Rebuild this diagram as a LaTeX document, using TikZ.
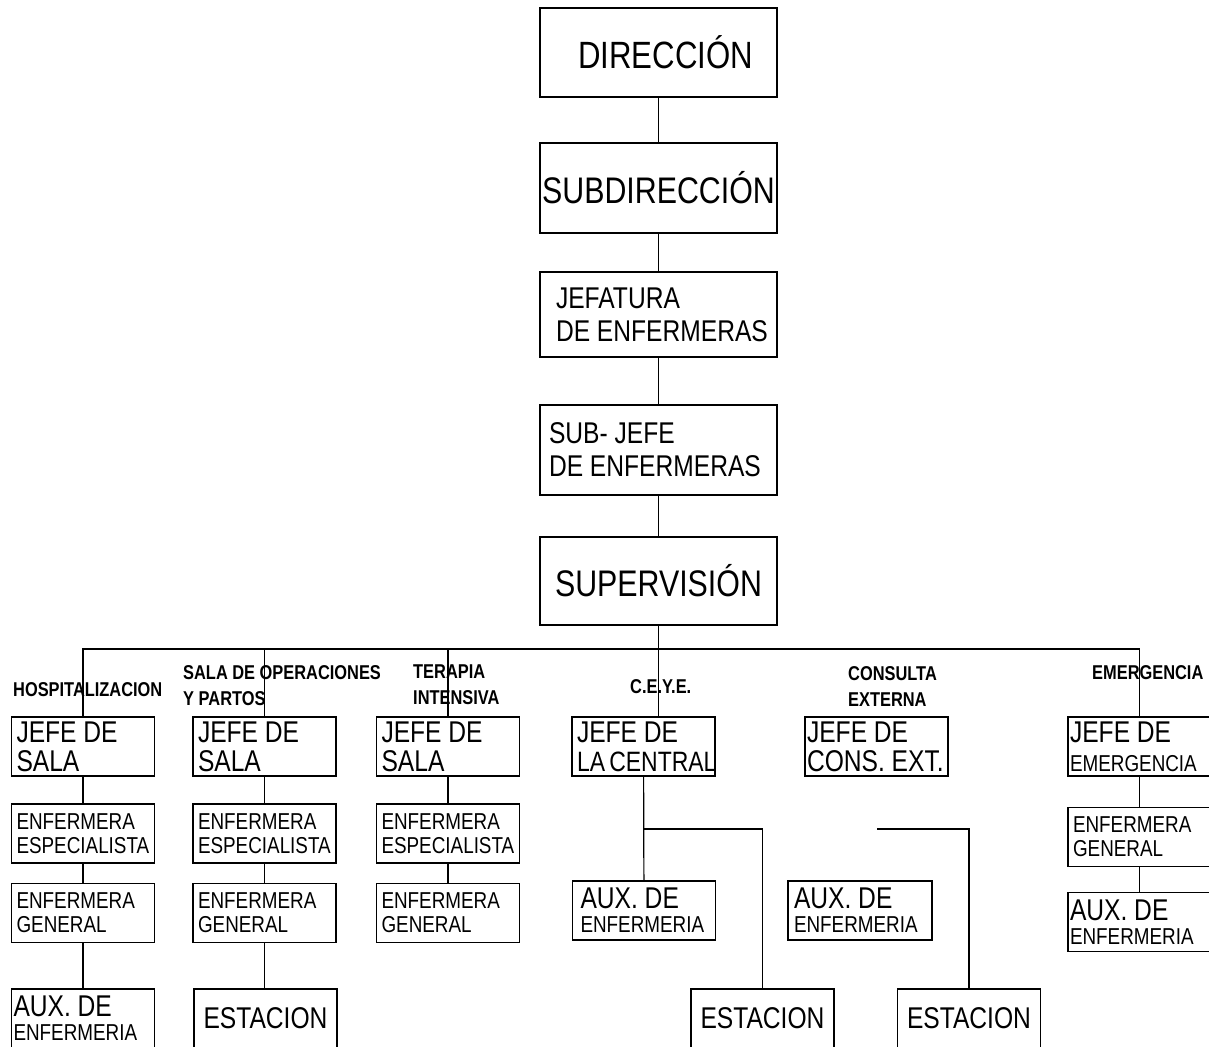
\documentclass[tikz,border=0pt]{standalone}
\usepackage{fontspec}
\setmainfont{Liberation Sans}[FakeStretch=0.82]
\usepackage{tikz}
\hyphenpenalty=10000

\newcommand\auxtext{AUX.~DE\\{\fontsize{23}{24}\selectfont ENFERMERIA}}

\begin{document}
\begin{tikzpicture}[x=1pt,y=-1pt,
  box/.style={draw, line width=1.3pt, inner ysep=0pt, align=flush left},
  topbox/.style={box, text width=223pt, inner xsep=7pt},
  unit/.style={box, text width=133pt, inner xsep=5pt, minimum height=59pt},
  bigtxt/.style={font=\fontsize{30}{29}\selectfont},
  smalltxt/.style={font=\fontsize{23}{24}\selectfont},
  auxtxt/.style={font=\fontsize{30}{24}\selectfont},
  station/.style={unit, align=center, font=\fontsize{30}{30}\selectfont},
  lab/.style={anchor=west, inner sep=0pt, align=left, font=\bfseries\fontsize{20}{26}\selectfont},
  wire/.style={line width=1.2pt}]
\useasboundingbox (0,0) rectangle (1209,1046);

\node[topbox, minimum height=89pt, align=center, font=\fontsize{38}{38}\selectfont] (dir) at (658.5,52.5) {\hspace*{14pt}DIRECCIÓN};
\node[topbox, minimum height=90pt, align=center, text width=235pt, inner xsep=1pt, font=\fontsize{37}{37}\selectfont] (subdir) at (658.5,188) {SUBDIRECCIÓN};
\node[topbox, minimum height=85pt, text width=219pt, inner xsep=9pt, font=\fontsize{30}{33}\selectfont] (jefat) at (658.5,314.5) {\hspace*{7pt}JEFATURA\\\hspace*{7pt}DE~ENFERMERAS};
\node[topbox, minimum height=90pt, text width=219pt, inner xsep=9pt, font=\fontsize{30}{33}\selectfont] (subjefe) at (658.5,450) {SUB- JEFE\\DE~ENFERMERAS};
\node[topbox, minimum height=88pt, align=center, font=\fontsize{37}{37}\selectfont] (superv) at (658.5,581) {SUPERVISIÓN};

\node[lab] (hospL) at (13,690) {HOSPITALIZACION};
\node[lab] (salaL) at (183,686) {SALA DE OPERACIONES\\Y PARTOS};
\node[lab] (terapL) at (413,685) {TERAPIA\\INTENSIVA};
\node[lab] (ceyeL) at (630,687) {C.E.Y.E.};
\node[lab] (consL) at (848,686.5) {CONSULTA\\EXTERNA};
\node[lab] (emerL) at (1092,673) {EMERGENCIA};

\node[unit, bigtxt] (hospJ) at (83,746.5) {JEFE~DE\\SALA};
\node[unit, smalltxt] (hospE) at (83,833.5) {ENFERMERA\\ESPECIALISTA};
\node[unit, smalltxt] (hospG) at (83,913) {ENFERMERA\\GENERAL};
\node[unit, auxtxt, inner xsep=2pt, text width=139pt] (hospA) at (83,1018.5) {\auxtext};

\node[unit, bigtxt] (salaJ) at (264.5,746.5) {JEFE~DE\\SALA};
\node[unit, smalltxt] (salaE) at (264.5,833.5) {ENFERMERA\\ESPECIALISTA};
\node[unit, smalltxt] (salaG) at (264.5,913) {ENFERMERA\\GENERAL};
\node[station] (salaS) at (265.5,1018.5) {ESTACION};

\node[unit, bigtxt] (terapJ) at (448,746.5) {JEFE~DE\\SALA};
\node[unit, smalltxt] (terapE) at (448,833.5) {ENFERMERA\\ESPECIALISTA};
\node[unit, smalltxt] (terapG) at (448,913) {ENFERMERA\\GENERAL};

\node[unit, bigtxt] (ceyeJ) at (643.5,746.5) {JEFE~DE\\{\fontsize{28}{29}\selectfont LA~CENTRAL}};
\node[unit, auxtxt, inner xsep=8pt, text width=127pt] (ceyeA) at (644,910.5) {\auxtext};
\node[station] (ceyeS) at (762.5,1018.5) {ESTACION};

\node[unit, bigtxt, inner xsep=2pt, text width=139pt] (consJ) at (876.5,746.5) {JEFE~DE\\CONS.~EXT.};
\node[unit, auxtxt, inner xsep=6pt, text width=132pt] (consA) at (860,910.5) {\auxtext};
\node[station] (consS) at (969,1018.5) {ESTACION};

\node[unit, bigtxt, inner xsep=2pt, text width=139pt] (emerJ) at (1139.5,746.5) {JEFE~DE\\{\fontsize{23}{29}\selectfont EMERGENCIA}};
\node[unit, smalltxt] (emerG) at (1139.5,837) {ENFERMERA\\GENERAL};
\node[unit, auxtxt, inner xsep=2pt, text width=139pt] (emerA) at (1139.5,922) {\auxtext};

\draw[wire] (dir) -- (subdir);
\draw[wire] (subdir) -- (jefat);
\draw[wire] (jefat) -- (subjefe);
\draw[wire] (subjefe) -- (superv);
\coordinate (bus) at (658.5,649);
\draw[wire] (superv) -- (bus);
\draw[wire] (hospJ.north) |- (bus);
\draw[wire] (salaJ.north) |- (bus);
\draw[wire] (terapJ.north) |- (bus);
\draw[wire] (emerJ.north) |- (bus);
\draw[wire] (bus) -- (bus |- ceyeJ.north);

\draw[wire] (hospJ) -- (hospE);
\draw[wire] (hospE) -- (hospG);
\draw[wire] (hospG) -- (hospA);
\draw[wire] (salaJ) -- (salaE);
\draw[wire] (salaE) -- (salaG);
\draw[wire] (salaG.south) -- (salaG.south |- salaS.north);
\draw[wire] (terapJ) -- (terapE);
\draw[wire] (terapE) -- (terapG);

\draw[wire] (ceyeJ) -- (ceyeA);
\coordinate (ceyeK) at (644,829);
\draw[wire] (ceyeK) -| (ceyeS.north);
\coordinate (consK) at (877,829);
\draw[wire] (consK) -| (consS.north);

\draw[wire] (emerJ) -- (emerG);
\draw[wire] (emerG) -- (emerA);
\end{tikzpicture}
\end{document}
